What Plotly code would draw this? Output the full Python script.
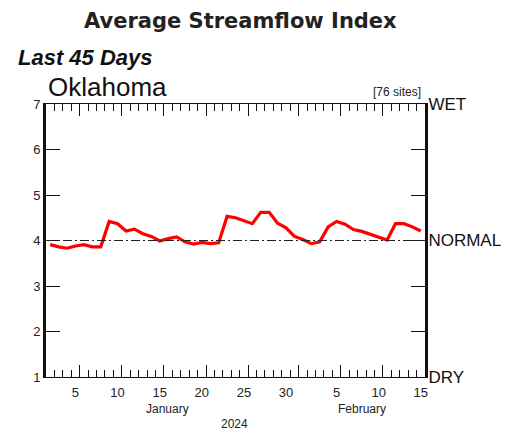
import plotly.graph_objects as go

# ---- data ----
# day index: 2 = Jan 2, ..., 31 = Jan 31, 32 = Feb 1, ..., 46 = Feb 15
days = list(range(2, 47))
index_values = [
    3.91, 3.86, 3.83, 3.88, 3.91, 3.86, 3.86, 4.42, 4.37, 4.21,
    4.25, 4.15, 4.09, 3.99, 4.04, 4.08, 3.97, 3.92, 3.96, 3.93,
    3.95, 4.53, 4.50, 4.43, 4.37, 4.62, 4.62, 4.38, 4.28, 4.09,
    4.02, 3.93, 3.97, 4.30, 4.42, 4.36, 4.24, 4.20, 4.14, 4.08,
    4.01, 4.37, 4.37, 4.30, 4.21,
]
x_tick_vals = [5, 10, 15, 20, 25, 30, 36, 41, 46]
x_tick_text = ["5", "10", "15", "20", "25", "30", "5", "10", "15"]
x_day_bounds = [d + 0.5 for d in range(2, 46)]
x_long_ticks = [5.5, 10.5, 15.5, 20.5, 25.5, 31.5, 36.5, 41.5]
month_names = ["January", "February"]
month_centers = [15.9, 39.0]
year_label = "2024"
year_center = 23.9
y_tick_vals = [1, 2, 3, 4, 5, 6, 7]
y_right_text = ["DRY", "", "", "NORMAL", "", "", "WET"]
NORMAL_LEVEL = 4
X_RANGE = [1.5, 46.5]

FONT = "Liberation Sans, Arial, sans-serif"

# page has an 8px body margin, so the figure is drawn 8px smaller
W, H = 506, 422
ML, MT, MR, MB = 38, 96, 89, 53

fig = go.Figure()
fig.add_trace(go.Scatter(x=days, y=index_values, mode="lines",
                         line=dict(color="#ff0000", width=3.2),
                         xaxis="x", yaxis="y", showlegend=False, hoverinfo="skip"))

fig.add_hline(y=NORMAL_LEVEL, line=dict(color="#222", width=1, dash="9px,3px,2px,3px"))

fig.update_layout(
    width=W, height=H,
    margin=dict(l=ML, r=MR, t=MT, b=MB, autoexpand=False),
    paper_bgcolor="white", plot_bgcolor="white",
    showlegend=False,
    xaxis=dict(
        range=X_RANGE, tickmode="array", tickvals=x_tick_vals, ticktext=x_tick_text,
        ticks="", showgrid=False, zeroline=False, ticklabelstandoff=3,
        showline=True, linecolor="#111", linewidth=1.3, mirror=True,
        tickfont=dict(family=FONT, size=13, color="#222"),
    ),
    xaxis2=dict(
        overlaying="x", anchor="y", side="bottom", range=X_RANGE,
        tickmode="array", tickvals=x_day_bounds, showticklabels=False,
        ticks="inside", ticklen=7, tickcolor="#111", tickwidth=1,
        mirror="ticks", showgrid=False, zeroline=False, showline=False,
    ),
    xaxis3=dict(
        overlaying="x", anchor="y", side="bottom", range=X_RANGE,
        tickmode="array", tickvals=x_long_ticks, showticklabels=False,
        ticks="inside", ticklen=12, tickcolor="#111", tickwidth=1,
        mirror="ticks", showgrid=False, zeroline=False, showline=False,
    ),
    yaxis=dict(
        range=[1, 7], tickmode="array", tickvals=y_tick_vals,
        ticks="inside", ticklen=14, tickcolor="#111", tickwidth=1,
        showline=True, linecolor="#111", linewidth=3,
        showgrid=False, zeroline=False,
        tickfont=dict(family=FONT, size=13, color="#222"),
    ),
    yaxis2=dict(
        overlaying="y", side="right", anchor="x", range=[1, 7],
        tickmode="array", tickvals=y_tick_vals, ticktext=y_right_text,
        ticks="inside", ticklen=14, tickcolor="#111", tickwidth=1,
        showline=True, linecolor="#111", linewidth=3,
        showgrid=False, zeroline=False, ticklabelstandoff=-3,
        tickfont=dict(family=FONT, size=17, color="#111"),
    ),
)

# invisible traces to activate the secondary axes
for xa, ya in [("x2", "y2"), ("x3", "y")]:
    fig.add_trace(go.Scatter(x=[days[0]], y=[index_values[0]], xaxis=xa, yaxis=ya,
                             mode="markers", marker=dict(opacity=0), showlegend=False,
                             hoverinfo="skip"))

PW = W - ML - MR
PH = H - MT - MB


def add_text(text, px, py, size, family=FONT, xanchor="center", color="#111"):
    # px, py: pixel position in the 514x430 window
    fx, fy = px - 8, py - 8
    fig.add_annotation(text=text, x=(fx - ML) / PW, y=1 - (fy - MT) / PH,
                       xref="paper", yref="paper",
                       xanchor=xanchor, yanchor="middle", showarrow=False,
                       font=dict(family=family, size=size, color=color))


add_text("<b>Average Streamflow Index</b>", 240, 21, 21, family="DejaVu Sans, sans-serif", color="#222")
add_text("<b><i>Last 45 Days</i></b>", 16, 58, 22, xanchor="left", color="#111")
add_text("Oklahoma", 46, 87, 26, xanchor="left", color="#111")
add_text("[76 sites]", 423, 92, 12, xanchor="right", color="#222")

for name, c in zip(month_names, month_centers):
    fig.add_annotation(text=name, x=c, y=0, xref="x", yref="paper", yanchor="top",
                       yshift=-23, showarrow=False,
                       font=dict(family=FONT, size=12, color="#222"))
fig.add_annotation(text=year_label, x=year_center, y=0, xref="x", yref="paper",
                   yanchor="top", yshift=-38, showarrow=False,
                   font=dict(family=FONT, size=12, color="#222"))

fig.write_html("out.html")
